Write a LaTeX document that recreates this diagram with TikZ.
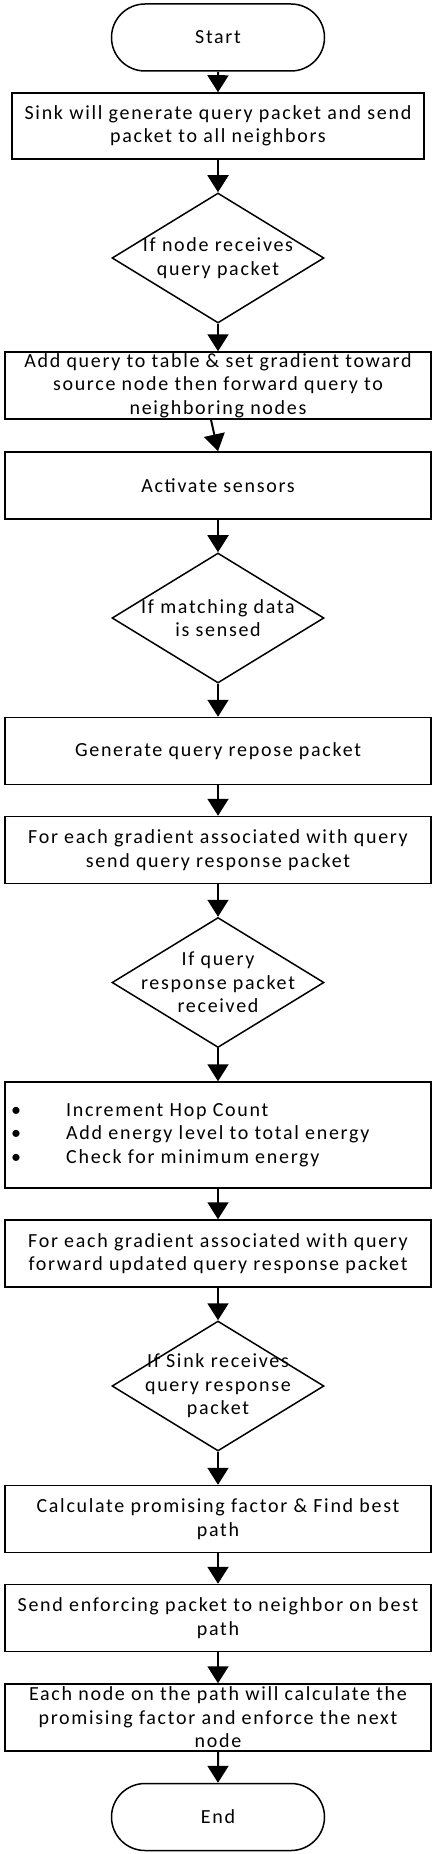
\documentclass[tikz,border=0pt]{standalone}
\usepackage{fontspec}
\setmainfont[LetterSpace=8.5]{Carlito}
\usetikzlibrary{arrows.meta,shapes.geometric,shapes.misc}
\begin{document}
\begin{tikzpicture}[x=1pt,y=-1pt,
  every node/.style={font=\fontsize{20}{23.5}\selectfont},
  box/.style={draw,line width=1.5pt,minimum width=426pt,minimum height=67pt,inner sep=0pt,align=center},
  term/.style={draw,line width=1.5pt,rounded rectangle,minimum width=213pt,minimum height=67pt,inner sep=0pt},
  dia/.style={draw,line width=1.5pt,diamond,minimum width=212pt,minimum height=130pt,inner sep=0pt},
  txt/.style={align=center,inner sep=0pt},
  arr/.style={line width=2pt,-{Triangle[width=21pt,length=17pt]}}]
\useasboundingbox (0,0) rectangle (436,1854);
\node[term] (start) at (218,37.5) {Start};
\node[box,minimum width=412pt,minimum height=66pt] (b1) at (218,126) {Sink will generate query packet and send\\packet to all neighbors};
\node[dia] (d1) at (218,258) {};
\node[txt] (t1) at (d1) {If node receives\\query packet};
\node[box] (b2) at (218,385.5) {Add query to table \& set gradient toward\\source node then forward query to\\neighboring nodes};
\node[box] (b3) at (218,485.5) {Activate sensors};
\node[dia] (d2) at (218,618) {};
\node[txt] (t2) at (d2) {If matching data\\is sensed};
\node[box] (b4) at (218,751) {Generate query repose packet};
\node[box] (b5) at (218,850) {For each gradient associated with query\\send query response packet};
\node[dia] (d3) at (218,982.5) {};
\node[txt] (t3) at (d3) {If query\\response packet\\received};
\node[box,minimum height=106pt] (b6) at (218,1135) {};
\node[txt,align=left,anchor=west] (t6) at (66,1135) {Increment Hop Count\\Add energy level to total energy\\Check for minimum energy};
\node[txt] (bul) at (16,1135) {\textbullet\\\textbullet\\\textbullet};
\node[box] (b7) at (218,1253.5) {For each gradient associated with query\\forward updated query response packet};
\node[dia] (d4) at (218,1386) {};
\node[txt] (t4) at (d4) {If Sink receives\\query response\\packet};
\node[box] (b8) at (218,1519) {Calculate promising factor \& Find best\\path};
\node[box] (b9) at (218,1618) {Send enforcing packet to neighbor on best\\path};
\node[box] (b10) at (218,1717.5) {Each node on the path will calculate the\\promising factor and enforce the next\\node};
\node[term] (end) at (218,1817) {End};
\draw[arr] (start) -- (b1);
\draw[arr] (b1) -- (d1);
\draw[arr] (d1) -- (b2);
\draw[arr] ([xshift=-7pt]b2.south) -- (b3.north);
\draw[arr] (b3) -- (d2);
\draw[arr] (d2) -- (b4);
\draw[arr] (b4) -- (b5);
\draw[arr] (b5) -- (d3);
\draw[arr] (d3) -- (b6);
\draw[arr] (b6) -- (b7);
\draw[arr] (b7) -- (d4);
\draw[arr] (d4) -- (b8);
\draw[arr] (b8) -- (b9);
\draw[arr] (b9) -- (b10);
\draw[arr] (b10) -- (end);
\end{tikzpicture}
\end{document}
